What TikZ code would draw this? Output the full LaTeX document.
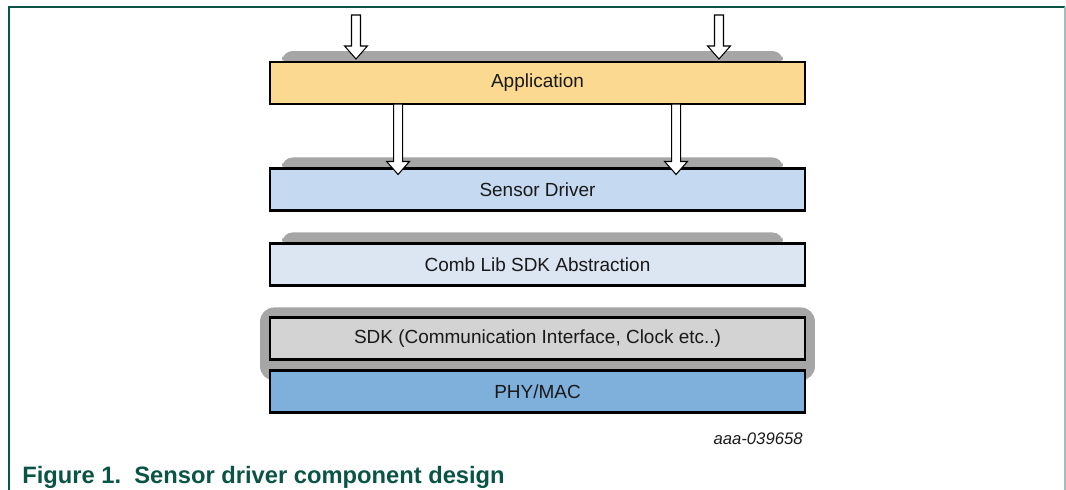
\documentclass[tikz,border=0pt]{standalone}
\usepackage{fontspec}
\setmainfont{Liberation Sans}
\usetikzlibrary{positioning,calc,backgrounds}

\definecolor{appfill}{RGB}{251,217,144}
\definecolor{drvfill}{RGB}{197,217,241}
\definecolor{combfill}{RGB}{220,230,242}
\definecolor{sdkfill}{RGB}{211,211,211}
\definecolor{phyfill}{RGB}{127,176,220}
\definecolor{tabgray}{RGB}{166,166,166}
\definecolor{nxpgreen}{RGB}{10,84,70}
\definecolor{edgegray}{RGB}{160,190,190}

% hollow block arrow from #1 down to the tip #2
\newcommand{\hollowarrow}[2]{%
  \draw[hollow] let \p1=(#1), \p2=(#2) in
    (\x1-2.55pt,\y1) -- (\x1-2.55pt,\y2+7.4pt) -- (\x1-6.5pt,\y2+7.4pt)
    -- (\x1,\y2) -- (\x1+6.5pt,\y2+7.4pt) -- (\x1+2.55pt,\y2+7.4pt)
    -- (\x1+2.55pt,\y1) -- cycle;}

\begin{document}
\begin{tikzpicture}[
    x=0.02cm, y=-0.02cm,
    every node/.style={font=\fontsize{10.8}{13}\selectfont, text=black!90},
    box/.style={rectangle, draw, line width=1.5pt, outer sep=0pt,
                minimum width=10.7cm, minimum height=0.84cm},
    tab/.style={fill=tabgray, rounded corners=6pt},
    hollow/.style={draw, fill=white, line width=0.6pt, line join=miter},
]
    \useasboundingbox (0,0) rectangle (1066,490);
    \draw[nxpgreen, line width=0.8pt] (9,490) -- (9,7) -- (1065,7);
    \draw[edgegray, line width=0.8pt] (1065,7) -- (1065,490);

    \node[box, fill=appfill] (app) at (537.5,83) {Application};
    \node[box, fill=drvfill, below=1.29cm of app] (drv) {Sensor Driver};
    \node[box, fill=combfill, below=0.66cm of drv] (comb) {Comb Lib SDK Abstraction};
    \node[box, fill=sdkfill, below=0.64cm of comb] (sdk)
        {SDK (Communication Interface, Clock etc..)};
    \node[box, fill=phyfill, below=0.22cm of sdk] (phy) {PHY/MAC};

    \begin{pgfonlayer}{background}
        \foreach \n in {app,drv,comb}
            \fill[tab] ($(\n.north west)+(12,4)$) -- ($(\n.north west)+(12,-11)$)
                -- ($(\n.north east)+(-22,-11)$) -- ($(\n.north east)+(-22,4)$) -- cycle;
        \fill[tab, rounded corners=8pt] ($(sdk.north west)+(-10,-10)$)
            rectangle ($(phy.north east)+(10,10)$);
    \end{pgfonlayer}

    \coordinate (in1) at (356,15);
    \coordinate (in2) at (719,15);
    \coordinate (out1) at ($(app.south west)+(128,0)$);
    \coordinate (out2) at ($(app.south west)+(406,0)$);
    \hollowarrow{in1}{$(in1 |- app.north)+(0,-3)$}
    \hollowarrow{in2}{$(in2 |- app.north)+(0,-3)$}
    \hollowarrow{out1}{$(out1 |- drv.north)+(0,6)$}
    \hollowarrow{out2}{$(out2 |- drv.north)+(0,6)$}

    \node[anchor=base east, inner sep=0pt,
          font=\fontsize{9.5}{11}\selectfont\itshape] (code)
        at (803,444) {aaa-039658};
    \node[anchor=base west, inner sep=0pt, text=nxpgreen,
          font=\fontsize{13.5}{16}\selectfont\bfseries] (cap)
        at (22,483) {Figure 1.\ \ Sensor driver component design};
\end{tikzpicture}
\end{document}
